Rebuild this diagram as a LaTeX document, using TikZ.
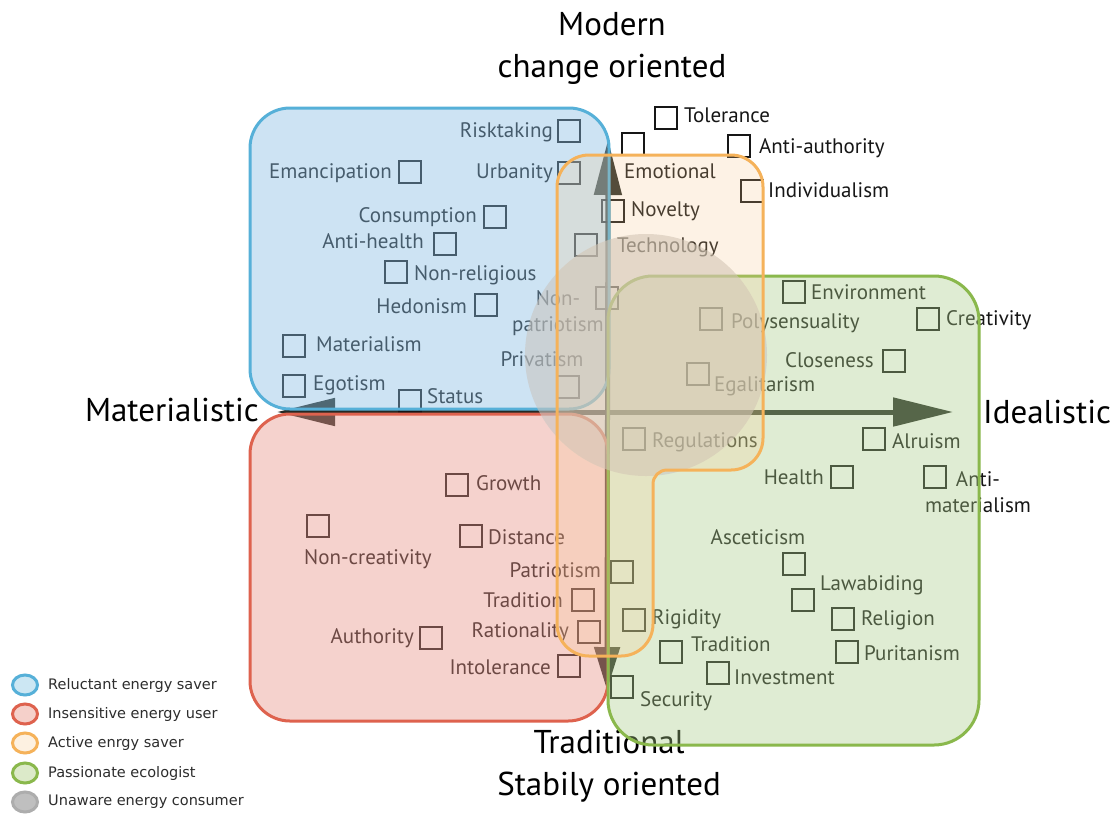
\documentclass[tikz,border=0pt]{standalone}
\usepackage{fontspec}
\setmainfont{PT Sans}
\newfontfamily\legfont{DejaVu Sans}
\usetikzlibrary{arrows.meta,shapes.geometric}

\definecolor{ink}{RGB}{22,22,22}
\definecolor{axisink}{RGB}{38,42,36}
\definecolor{blueLine}{RGB}{86,176,216}
\definecolor{blueFill}{RGB}{138,190,228}
\definecolor{redLine}{RGB}{222,98,78}
\definecolor{redFill}{RGB}{232,146,134}
\definecolor{greenLine}{RGB}{138,184,76}
\definecolor{greenFill}{RGB}{170,205,137}
\definecolor{orangeLine}{RGB}{245,178,90}
\definecolor{orangeFill}{RGB}{250,200,140}
\definecolor{greyFill}{RGB}{200,198,194}
\definecolor{legInk}{RGB}{45,45,45}

\tikzset{
  item/.style={rectangle, draw=ink, line width=2.8pt, minimum size=22pt, inner sep=0pt},
  lbl/.style={font=\fontsize{21}{24}\selectfont, text=ink, inner sep=0pt, yshift=-7pt},
  lw/.style={lbl, anchor=base west},
  le/.style={lbl, anchor=base east},
  lb/.style={lbl, anchor=base},
  lc/.style={font=\fontsize{21}{26}\selectfont, text=ink, inner sep=0pt, align=center},
  axislbl/.style={font=\fontsize{33}{42}\selectfont, text=black, inner sep=0pt, align=center},
  axisline/.style={draw=axisink, line width=5pt},
  region/.style={line width=3pt},
  legdot/.style={ellipse, minimum width=25pt, minimum height=20pt, inner sep=0pt, line width=3pt},
  legtxt/.style={font=\legfont\fontsize{14.5}{17}\selectfont, text=legInk, inner sep=0pt, anchor=west}
}

\begin{document}
\begin{tikzpicture}[x=1pt,y=-1pt]
\useasboundingbox (0,0) rectangle (1113,831);
\fill[white] (0,0) rectangle (1113,831);

% ---------- axes ----------
\coordinate (axL) at (277,412);
\coordinate (axR) at (953,412);
\coordinate (axT) at (608,140);
\coordinate (axB) at (607,690);
\draw[axisline, {Triangle[length=58pt,width=27pt]}-{Triangle[length=60pt,width=28pt]}] (axL) -- (axR);
\draw[axisline, {Triangle[length=55pt,width=27pt]}-{Triangle[length=43pt,width=25pt]}] (axT) -- (axB);

% ---------- axis captions ----------
\node[axislbl] (capTop) at (612,48) {Modern\\change oriented};
\node[axislbl] (capBot) at (609,766) {Traditional\\Stabily oriented};
\node[axislbl, anchor=base east] (capLeft) at (259,421) {Materialistic};
\node[axislbl, anchor=base west] (capRight) at (983,423) {Idealistic};

% ---------- reluctant energy saver values ----------
\node[item] (bRisk) at (569,131) {};   \node[le] (tRisk) at (553,130) {Risktaking};
\node[item] (bUrb)  at (569,173) {};   \node[le] (tUrb)  at (553,171) {Urbanity};
\node[item] (bEman) at (410,172) {};   \node[le] (tEman) at (392,171) {Emancipation};
\node[item] (bCons) at (495,217) {};   \node[le] (tCons) at (477,215) {Consumption};
\node[item] (bAnH)  at (445,244) {};   \node[le] (tAnH)  at (424,241) {Anti-health};
\node[item] (bNRel) at (396,272) {};   \node[lw] (tNRel) at (414,273) {Non-religious};
\node[item] (bHed)  at (486,305) {};   \node[le] (tHed)  at (467,306) {Hedonism};
\node[item] (bMat)  at (294,346) {};   \node[lw] (tMat)  at (316,344) {Materialism};
\node[item] (bEgo)  at (294,386) {};   \node[lw] (tEgo)  at (313,383) {Egotism};
\node[item] (bStat) at (410,401) {};   \node[lw] (tStat) at (427,396) {Status};
\node[item] (bNPat) at (607,298) {};   \node[lc] (tNPat) at (558,313) {Non-\\patriotism};
\node[item] (bPriv) at (568,387) {};   \node[lb] (tPriv) at (542,359) {Privatism};

% ---------- active energy saver values ----------
\node[item] (bTol)  at (666,118) {};   \node[lw] (tTol)  at (684,115) {Tolerance};
\node[item] (bEmo)  at (633,144) {};   \node[lw] (tEmo)  at (624,171) {Emotional};
\node[item] (bAAu)  at (739,146) {};   \node[lw] (tAAu)  at (759,146) {Anti-authority};
\node[item] (bInd)  at (752,191) {};   \node[lw] (tInd)  at (768,190) {Individualism};
\node[item] (bNov)  at (613,211) {};   \node[lw] (tNov)  at (631,209) {Novelty};
\node[item] (bTech) at (586,245) {};   \node[lw] (tTech) at (617,245) {Technology};

% ---------- passionate ecologist values ----------
\node[item] (bEnv)  at (794,292) {};   \node[lw] (tEnv)  at (811,292) {Environment};
\node[item] (bPoly) at (711,319) {};   \node[lw] (tPoly) at (731,321) {Polysensuality};
\node[item] (bCrea) at (928,319) {};   \node[lw] (tCrea) at (946,318) {Creativity};
\node[item] (bClos) at (894,361) {};   \node[le] (tClos) at (874,360) {Closeness};
\node[item] (bEgal) at (698,374) {};   \node[lw] (tEgal) at (714,384) {Egalitarism};
\node[item] (bReg)  at (634,439) {};   \node[lw] (tReg)  at (652,440) {Regulations};
\node[item] (bAlt)  at (874,439) {};   \node[lw] (tAlt)  at (892,441) {Alruism};
\node[item] (bHlth) at (842,477) {};   \node[le] (tHlth) at (824,477) {Health};
\node[item] (bAMat) at (935,477) {};   \node[lc] (tAMat) at (978,492) {Anti-\\materialism};
\node[item] (bAsc)  at (794,564) {};   \node[lb] (tAsc)  at (758,537) {Asceticism};
\node[item] (bLaw)  at (803,600) {};   \node[lw] (tLaw)  at (820,583) {Lawabiding};
\node[item] (bRel)  at (843,619) {};   \node[lw] (tRel)  at (861,618) {Religion};
\node[item] (bTrG)  at (671,652) {};   \node[lw] (tTrG)  at (691,644) {Tradition};
\node[item] (bPur)  at (847,652) {};   \node[lw] (tPur)  at (864,653) {Puritanism};
\node[item] (bInv)  at (718,673) {};   \node[lw] (tInv)  at (734,677) {Investment};
\node[item] (bSec)  at (622,687) {};   \node[lw] (tSec)  at (640,699) {Security};
\node[item] (bRig)  at (634,620) {};   \node[lw] (tRig)  at (652,617) {Rigidity};

% ---------- insensitive energy user values ----------
\node[item] (bGro)  at (457,485) {};   \node[lw] (tGro)  at (476,483) {Growth};
\node[item] (bNCr)  at (318,526) {};   \node[lw] (tNCr)  at (304,557) {Non-creativity};
\node[item] (bDist) at (471,536) {};   \node[lw] (tDist) at (488,537) {Distance};
\node[item] (bPat)  at (622,572) {};   \node[le] (tPat)  at (601,570) {Patriotism};
\node[item] (bTrR)  at (583,600) {};   \node[le] (tTrR)  at (563,600) {Tradition};
\node[item] (bAuth) at (431,638) {};   \node[le] (tAuth) at (414,636) {Authority};
\node[item] (bRat)  at (589,632) {};   \node[le] (tRat)  at (569,630) {Rationality};
\node[item] (bIntl) at (569,666) {};   \node[le] (tIntl) at (551,667) {Intolerance};

% ---------- segment areas, laid over the values ----------
\draw[region, draw=blueLine, fill=blueFill, fill opacity=0.42, rounded corners=40pt]
  (250,108) rectangle (609,409);
\draw[region, draw=redLine, fill=redFill, fill opacity=0.41, rounded corners=40pt]
  (250,414) rectangle (608,721);
\draw[region, draw=greenLine, fill=greenFill, fill opacity=0.37, rounded corners=45pt]
  (608,276) rectangle (979,745);
\fill[greyFill, fill opacity=0.6] (646,355) circle[radius=121pt];
\draw[region, draw=orangeLine, fill=orangeFill, fill opacity=0.22]
  [rounded corners=32pt] (557,400) -- (557,155) -- (763,155) -- (763,470)
  [rounded corners=14pt] -- (653,470)
  [rounded corners=32pt] -- (653,656) -- (557,656) -- cycle;

% ---------- legend ----------
\node[legdot, draw=blueLine, fill=blueLine!30] (kBlue) at (25,685) {};
\node[legtxt] (lBlue) at (48,685) {Reluctant energy saver};
\node[legdot, draw=redLine, fill=redLine!30] (kRed) at (25,714) {};
\node[legtxt] (lRed) at (48,714) {Insensitive energy user};
\node[legdot, draw=orangeLine, fill=orangeLine!18] (kOr) at (25,743) {};
\node[legtxt] (lOr) at (48,743) {Active enrgy saver};
\node[legdot, draw=greenLine, fill=greenLine!30] (kGr) at (25,773) {};
\node[legtxt] (lGr) at (48,773) {Passionate ecologist};
\node[legdot, draw=black!32, fill=black!25] (kGy) at (25,802) {};
\node[legtxt] (lGy) at (48,802) {Unaware energy consumer};
\end{tikzpicture}
\end{document}
